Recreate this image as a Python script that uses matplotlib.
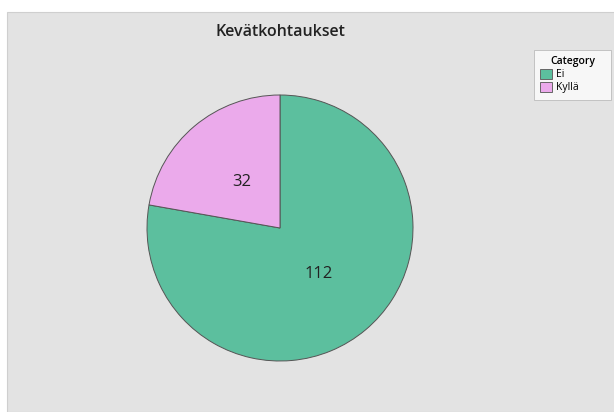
import matplotlib.pyplot as plt
from matplotlib.patches import Rectangle

categories = ['Ei', 'Kyllä']
counts = [112, 32]
colors = ['#5cbf9e', '#ebaaeb']

plt.rcParams['font.family'] = ['Open Sans', 'DejaVu Sans']

fig = plt.figure(figsize=(6.14, 4.12), dpi=100)
fig.patch.set_facecolor('white')
# grey panel behind everything
fig.add_artist(Rectangle((7 / 614, 0), 1, 1 - 12 / 412, transform=fig.transFigure,
                         facecolor='#e3e3e3', edgecolor='#cfcfcf', lw=0.8, zorder=0))

W, H = 614, 412
cx, cy, r = 280, 228, 133
ax = fig.add_axes([(cx - r) / W, 1 - (cy + r) / H, 2 * r / W, 2 * r / H])
wedges, texts = ax.pie(counts, colors=colors, labels=[str(c) for c in counts],
                       startangle=90, counterclock=False, labeldistance=0.45,
                       wedgeprops=dict(edgecolor='#555555', linewidth=0.7),
                       textprops=dict(fontsize=12, color='#222222'))
for t in texts:
    t.set_ha('center')
    t.set_va('center')
ax.set_xlim(-1, 1)
ax.set_ylim(-1, 1)
ax.set_aspect('auto')

fig.text(cx / W, 1 - 32 / H, 'Kevätkohtaukset', ha='center', va='center',
         fontsize=11.5, fontweight='semibold', color='#222222')

leg = fig.legend(wedges, categories, title='Category', loc='upper left',
                 bbox_to_anchor=(534 / W, 1 - 100 / H, 77 / W, 50 / H), mode='expand',
                 fontsize=7.5, title_fontsize=7.5, frameon=True, fancybox=False,
                 handlelength=1.1, handleheight=1.1, handletextpad=0.4,
                 borderpad=0.6, labelspacing=0.15, edgecolor='#bbbbbb',
                 facecolor='#f7f7f7', framealpha=1, alignment='center',
                 borderaxespad=0)
leg.get_title().set_fontweight('semibold')
leg.get_frame().set_linewidth(0.6)
for h in leg.legend_handles:
    h.set_edgecolor('#666666')

fig.savefig('out.png', dpi=100)
